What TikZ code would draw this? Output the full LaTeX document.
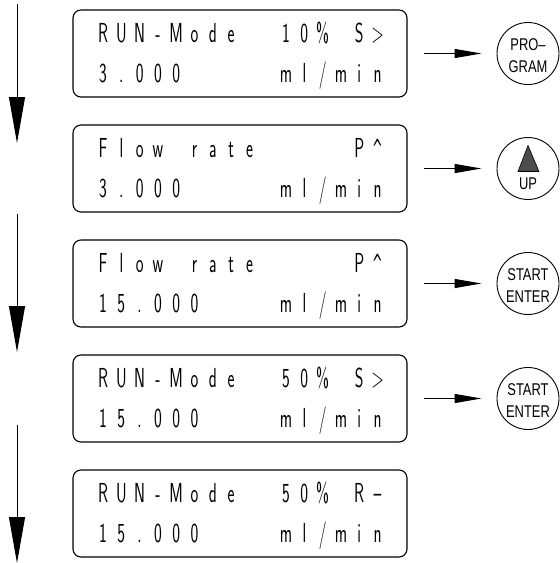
\documentclass[tikz,border=0pt]{standalone}
\usepackage{fontspec}
\usepackage{graphicx}
\usetikzlibrary{arrows.meta}
\newfontfamily\keyfont{Liberation Sans}
\newfontfamily\caretfont{DejaVu Sans}

% one display cell of the 16-character LCD line
\newlength\lcdw \setlength\lcdw{18.3pt}
\newcommand\lcdfont{\fontsize{27.5pt}{27.5pt}\sffamily}
\newcommand\lcdcell[1]{\makebox[\lcdw][c]{\scalebox{0.6}[1]{\lcdfont #1}}}
% a row is a token list; | marks an empty cell
\def\lcdstop{LCDSTOP}
\def\lcdrow#1{\lcdscan#1\lcdstop}
\def\lcdscan#1{\ifx#1\lcdstop\else\lcdput#1\expandafter\lcdscan\fi}
\def\lcdput#1{\ifx#1|\lcdcell{}\else\lcdcell{#1}\fi}
% caret of the display font
\newcommand\lcdcaret{\scalebox{0.85}[1]{\caretfont\fontsize{25pt}{25pt}\selectfont\char"5E}}
% key caption
\newcommand\keytext[1]{\scalebox{0.76}[1]{\keyfont\fontsize{17pt}{17pt}\selectfont #1}}

\tikzset{
  lcdbox/.style={draw, line width=1.1pt, rounded corners=8pt,
    minimum width=334pt, minimum height=87pt, inner sep=0pt},
  lcdtext/.style={anchor=base west, inner sep=0pt, outer sep=0pt},
  flow/.style={line width=1pt, -{Triangle[length=46pt,width=16pt]}},
  push/.style={line width=1pt, -{Triangle[length=27pt,width=9pt]}},
  keybtn/.style={draw, circle, line width=0.9pt, minimum size=62pt, inner sep=0pt},
  keylbl/.style={anchor=base, inner sep=0pt, outer sep=0pt},
}

\begin{document}
\begin{tikzpicture}[x=1pt, y=-1pt]
\useasboundingbox (0,0) rectangle (560,563);

% display boxes
\node[lcdbox] (b1) at (240,53.5) {};
\node[lcdbox] (b2) at (240,168.5) {};
\node[lcdbox] (b3) at (240,283.5) {};
\node[lcdbox] (b4) at (240,398.5) {};
\node[lcdbox] (b5) at (240,513.5) {};

% display contents
\node[lcdtext] (t1a) at (93.9,42)  {\lcdrow{RUN-Mode||10\%|S>}};
\node[lcdtext] (t1b) at (93.9,82)  {\lcdrow{3.000|||||ml/min}};
\node[lcdtext] (t2a) at (93.9,157) {\lcdrow{Flow|rate|||||P\lcdcaret}};
\node[lcdtext] (t2b) at (93.9,197) {\lcdrow{3.000|||||ml/min}};
\node[lcdtext] (t3a) at (93.9,272) {\lcdrow{Flow|rate|||||P\lcdcaret}};
\node[lcdtext] (t3b) at (93.9,312) {\lcdrow{15.000||||ml/min}};
\node[lcdtext] (t4a) at (93.9,387) {\lcdrow{RUN-Mode||50\%|S>}};
\node[lcdtext] (t4b) at (93.9,427) {\lcdrow{15.000||||ml/min}};
\node[lcdtext] (t5a) at (93.9,502) {\lcdrow{RUN-Mode||50\%|R–}};
\node[lcdtext] (t5b) at (93.9,542) {\lcdrow{15.000||||ml/min}};

% keys
\node[keybtn] (k1) at (528,53.5) {};
\node[keybtn] (k2) at (528,168.5) {};
\node[keybtn] (k3) at (528,283.5) {};
\node[keybtn] (k4) at (528,398.5) {};

\node[keylbl] (k1a) at ([yshift=3pt]k1.center)   {\keytext{PRO–}};
\node[keylbl] (k1b) at ([yshift=-19pt]k1.center) {\keytext{GRAM}};
\node[keylbl] (k2b) at ([yshift=-21pt]k2.center) {\keytext{UP}};
\node[keylbl] (k3a) at ([yshift=3pt]k3.center)   {\keytext{START}};
\node[keylbl] (k3b) at ([yshift=-19pt]k3.center) {\keytext{ENTER}};
\node[keylbl] (k4a) at ([yshift=3pt]k4.center)   {\keytext{START}};
\node[keylbl] (k4b) at ([yshift=-19pt]k4.center) {\keytext{ENTER}};

% up symbol on the UP key
\filldraw[fill=black!70, line width=0.6pt]
  ([yshift=23pt]k2.center) -- ([xshift=-10pt,yshift=-3pt]k2.center)
  -- ([xshift=11pt,yshift=-3pt]k2.center) -- cycle;

% key presses
\draw[push] ([xshift=16pt]b1.east) -- ([xshift=-15pt]k1.west);
\draw[push] ([xshift=16pt]b2.east) -- ([xshift=-15pt]k2.west);
\draw[push] ([xshift=16pt]b3.east) -- ([xshift=-15pt]k3.west);
\draw[push] ([xshift=16pt]b4.east) -- ([xshift=-15pt]k4.west);

% sequence arrows
\coordinate (s1) at (17,4);   \coordinate (e1) at (17,143);
\coordinate (s2) at (17,214); \coordinate (e2) at (17,352);
\coordinate (s3) at (17,425); \coordinate (e3) at (17,563);
\draw[flow] (s1) -- (e1);
\draw[flow] (s2) -- (e2);
\draw[flow] (s3) -- (e3);
\end{tikzpicture}
\end{document}
